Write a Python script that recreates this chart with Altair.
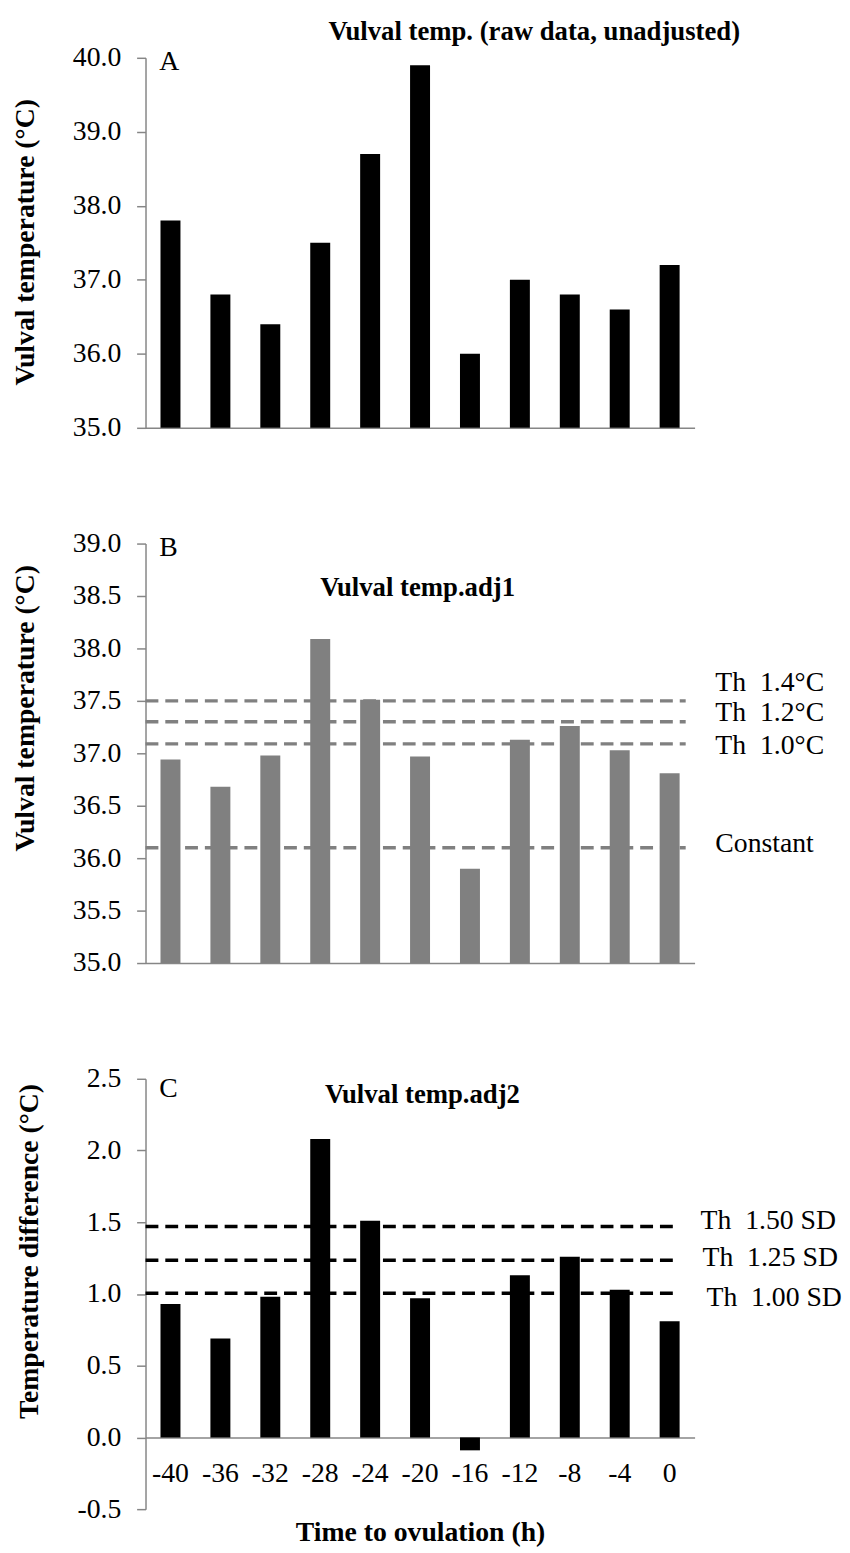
import altair as alt
import pandas as pd

# ---------------- data ----------------
hours = ["-40", "-36", "-32", "-28", "-24", "-20", "-16", "-12", "-8", "-4", "0"]
raw_temp = [37.8, 36.8, 36.4, 37.5, 38.7, 39.9, 36.0, 37.0, 36.8, 36.6, 37.2]
adj1_temp = [36.94, 36.68, 36.98, 38.09, 37.51, 36.97, 35.90, 37.13, 37.26, 37.03, 36.81]
adj2_diff = [0.93, 0.69, 0.98, 2.08, 1.51, 0.97, -0.09, 1.13, 1.26, 1.03, 0.81]

adj1_lines = [37.50, 37.30, 37.09, 36.10]
adj1_labels = ["Th\u00a0 1.4°C", "Th\u00a0 1.2°C", "Th\u00a0 1.0°C", "Constant"]
adj2_lines = [1.47, 1.235, 1.005]
adj2_labels = ["Th\u00a0 1.50 SD", "Th\u00a0 1.25 SD", "Th\u00a0 1.00 SD"]

title_a = "Vulval temp. (raw data, unadjusted)"
title_b = "Vulval temp.adj1"
title_c = "Vulval temp.adj2"
ytitle_ab = "Vulval temperature (°C)"
ytitle_c = "Temperature difference (°C)"
xtitle_c = "Time to ovulation (h)"

# ---------------- layout / style ----------------
FONT = "Liberation Serif"
AX = "#868686"
GREY = "#808080"
W = 555
H_A, H_B, H_C = 374, 424, 435
LBL = 28
AXT = 28
TTL = 27

# label offsets (pixels) for threshold captions
adj1_label_dy = [-18, -9, 2.5, -3.5]
adj1_label_x = [576, 576, 576, 576]
adj2_label_dy = [-6, -2, 5]
adj2_label_x = [561, 563, 567]

x_scale = alt.Scale(paddingInner=0.6, paddingOuter=0.3)


def y_axis(values, title, tx, ty):
    return alt.Axis(
        values=values,
        labelExpr="datum.value < 0 ? '-' + format(-datum.value, '.1f') : format(datum.value, '.1f')",
        title=title, titleX=tx, titleY=ty, titleAngle=-90, titleBaseline="middle",
        titleFont=FONT, titleFontSize=AXT, titleFontWeight="bold", titleColor="black",
        labelFont=FONT, labelFontSize=LBL, labelColor="black", labelPadding=16,
        tickSize=9, tickColor=AX, tickWidth=1.5, domainColor=AX, domainWidth=1.5,
        grid=False,
    )


x_axis_plain = alt.Axis(labels=False, ticks=False, title=None, domainColor=AX,
                        domainWidth=1.5, grid=False)
x_axis_c = alt.Axis(
    offset=-72.5, ticks=False, tickSize=0, labelPadding=23, labelAngle=0,
    labelFont=FONT, labelFontSize=LBL, labelColor="black",
    title=xtitle_c, titleY=96, titleBaseline="middle", titleFont=FONT,
    titleFontSize=AXT, titleFontWeight="bold", titleColor="black",
    domainColor=AX, domainWidth=1.5, grid=False,
)


def text_layer(txt, x, y, size=LBL, bold=False, align="left"):
    return alt.Chart(pd.DataFrame({"t": [txt]})).mark_text(
        font=FONT, fontSize=size, fontWeight="bold" if bold else "normal",
        align=align, baseline="middle", color="black",
    ).encode(x=alt.value(x), y=alt.value(y), text="t:N")


def bar_layer(vals, color, yscale, yaxis, xaxis, base):
    df = pd.DataFrame({"hour": hours, "val": vals})
    return alt.Chart(df).mark_bar(color=color).encode(
        x=alt.X("hour:N", sort=hours, scale=x_scale, axis=xaxis),
        y=alt.Y("val:Q", scale=yscale, axis=yaxis),
        y2=alt.datum(base),
    )


def rule_layer(vals, color, yscale, yaxis, x2):
    df = pd.DataFrame({"val": vals})
    return alt.Chart(df).mark_rule(color=color, strokeDash=[13, 7], strokeWidth=3.5).encode(
        y=alt.Y("val:Q", scale=yscale, axis=yaxis),
        x=alt.value(0), x2=alt.value(x2),
    )


def caption_layers(vals, labels, xs, dys, yscale, yaxis):
    out = []
    for v, lab, xx, dy in zip(vals, labels, xs, dys):
        df = pd.DataFrame({"val": [v], "t": [lab]})
        out.append(alt.Chart(df).mark_text(
            font=FONT, fontSize=LBL, align="left", baseline="middle", color="black", dy=dy,
        ).encode(y=alt.Y("val:Q", scale=yscale, axis=yaxis), x=alt.value(xx), text="t:N"))
    return out


# ---------------- panel A ----------------
ys_a = alt.Scale(domain=[35, 40], nice=False, zero=False)
ya_a = y_axis([35, 36, 37, 38, 39, 40], ytitle_ab, -121, 186)
panel_a = alt.layer(
    bar_layer(raw_temp, "black", ys_a, ya_a, x_axis_plain, 35),
    text_layer("A", 14, 4),
    text_layer(title_a, 393, -25.7, size=TTL, bold=True, align="center"),
).properties(width=W, height=H_A)

# ---------------- panel B ----------------
ys_b = alt.Scale(domain=[35, 39], nice=False, zero=False)
ya_b = y_axis([35, 35.5, 36, 36.5, 37, 37.5, 38, 38.5, 39], ytitle_ab, -121, 166)
panel_b = alt.layer(
    bar_layer(adj1_temp, GREY, ys_b, ya_b, x_axis_plain, 35),
    rule_layer(adj1_lines, GREY, ys_b, ya_b, 546),
    *caption_layers(adj1_lines, adj1_labels, adj1_label_x, adj1_label_dy, ys_b, ya_b),
    text_layer("B", 14, 5),
    text_layer(title_b, 275, 45, size=TTL, bold=True, align="center"),
).properties(width=W, height=H_B)

# ---------------- panel C ----------------
ys_c = alt.Scale(domain=[-0.5, 2.5], nice=False, zero=False)
ya_c = y_axis([-0.5, 0, 0.5, 1.0, 1.5, 2.0, 2.5], ytitle_c, -117, 174)
panel_c = alt.layer(
    bar_layer(adj2_diff, "black", ys_c, ya_c, x_axis_c, 0),
    rule_layer(adj2_lines, "black", ys_c, ya_c, 537),
    *caption_layers(adj2_lines, adj2_labels, adj2_label_x, adj2_label_dy, ys_c, ya_c),
    text_layer("C", 14, 10.7),
    text_layer(title_c, 280, 16.5, size=TTL, bold=True, align="center"),
).properties(width=W, height=H_C)

chart = alt.vconcat(panel_a, panel_b, panel_c, spacing=117, bounds="flush").properties(
    padding={"left": 3, "top": 2, "right": 0, "bottom": 0}
).configure(font=FONT).configure_view(stroke=None).configure_axis(
    labelFont=FONT, titleFont=FONT
).configure_text(font=FONT)

chart.save("out.html", embed_options={"renderer": "svg", "actions": False})
